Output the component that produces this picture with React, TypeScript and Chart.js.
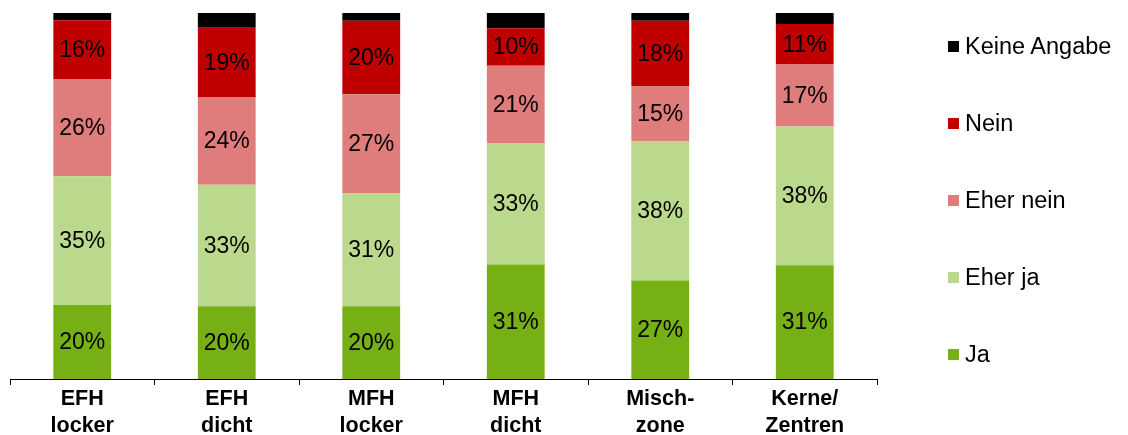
import React, { useEffect, useRef } from "react";
import { Chart, registerables } from "chart.js";

Chart.register(...registerables);

const categories: string[][] = [
  ["EFH", "locker"],
  ["EFH", "dicht"],
  ["MFH", "locker"],
  ["MFH", "dicht"],
  ["Misch-", "zone"],
  ["Kerne/", "Zentren"],
];

const ja = [20.2, 19.9, 19.9, 31.3, 26.9, 31.1];
const eherJa = [35.2, 33.2, 30.9, 33.2, 38.1, 37.9];
const eherNein = [26.4, 23.8, 27.0, 21.1, 14.9, 16.9];
const nein = [16.2, 19.1, 20.1, 10.2, 18.0, 11.1];
const keineAngabe = [2.0, 4.0, 2.1, 4.2, 2.1, 3.0];

const seriesNames = ["Ja", "Eher ja", "Eher nein", "Nein", "Keine Angabe"];
const seriesColors = ["#77B015", "#BAD98C", "#DF7C7C", "#C00000", "#000000"];
const labeledSeries = [true, true, true, true, false];

const FONT = "'Liberation Sans', Arial, sans-serif";

const valueLabelPlugin = {
  id: "valueLabels",
  afterDatasetsDraw(chart: any) {
    const ctx = chart.ctx;
    ctx.save();
    ctx.font = `23px ${FONT}`;
    ctx.fillStyle = "#000000";
    ctx.textAlign = "center";
    ctx.textBaseline = "middle";
    chart.data.datasets.forEach((ds: any, i: number) => {
      if (!labeledSeries[i]) return;
      const meta = chart.getDatasetMeta(i);
      meta.data.forEach((bar: any, j: number) => {
        const v = ds.data[j];
        const cy = (bar.y + bar.base) / 2;
        ctx.fillText(`${Math.round(v)}%`, bar.x, cy + 1);
      });
    });
    ctx.restore();
  },
};

export default function App() {
  const canvasRef = useRef<HTMLCanvasElement | null>(null);

  useEffect(() => {
    document.body.style.margin = "0";
    const canvas = canvasRef.current;
    if (!canvas) return;
    const data = [ja, eherJa, eherNein, nein, keineAngabe];
    const chart = new Chart(canvas, {
      type: "bar",
      data: {
        labels: categories,
        datasets: data.map((d, i) => ({
          label: seriesNames[i],
          data: d,
          backgroundColor: seriesColors[i],
          borderWidth: 0,
          barPercentage: 0.4,
          categoryPercentage: 1,
        })),
      },
      options: {
        animation: false,
        responsive: false,
        maintainAspectRatio: false,
        events: [],
        layout: { padding: { left: 10, right: 251, top: 13, bottom: 0 } },
        plugins: {
          legend: { display: false },
          tooltip: { enabled: false },
        },
        scales: {
          x: {
            stacked: true,
            afterFit: (scale: any) => {
              scale.height = 56;
            },
            grid: {
              display: true,
              offset: true,
              drawOnChartArea: false,
              drawTicks: true,
              tickLength: 6,
              color: "#000000",
              lineWidth: 1,
            },
            border: { display: true, color: "#000000", width: 1 },
            ticks: {
              color: "#000000",
              font: { family: FONT, size: 21.5, weight: "bold", lineHeight: 1.256 },
              padding: 1,
              maxRotation: 0,
              autoSkip: false,
            },
          },
          y: {
            stacked: true,
            display: false,
            min: 0,
            max: 100,
          },
        },
      },
      plugins: [valueLabelPlugin],
    });
    return () => chart.destroy();
  }, []);

  const legendOrder = [4, 3, 2, 1, 0];

  return (
    <div style={{ position: "relative", width: 1128, height: 435, background: "#fff" }}>
      <canvas ref={canvasRef} width={1128} height={435} style={{ display: "block" }} />
      {legendOrder.map((idx, k) => (
        <div
          key={idx}
          style={{
            position: "absolute",
            left: 948,
            top: 46 + k * 77 - 14,
            height: 28,
            display: "flex",
            alignItems: "center",
            fontFamily: FONT,
            fontSize: 23.5,
            color: "#000",
            whiteSpace: "nowrap",
          }}
        >
          <span
            style={{
              display: "inline-block",
              width: 11,
              height: 11,
              background: seriesColors[idx],
              marginRight: 6,
            }}
          />
          <span>{seriesNames[idx]}</span>
        </div>
      ))}
    </div>
  );
}
